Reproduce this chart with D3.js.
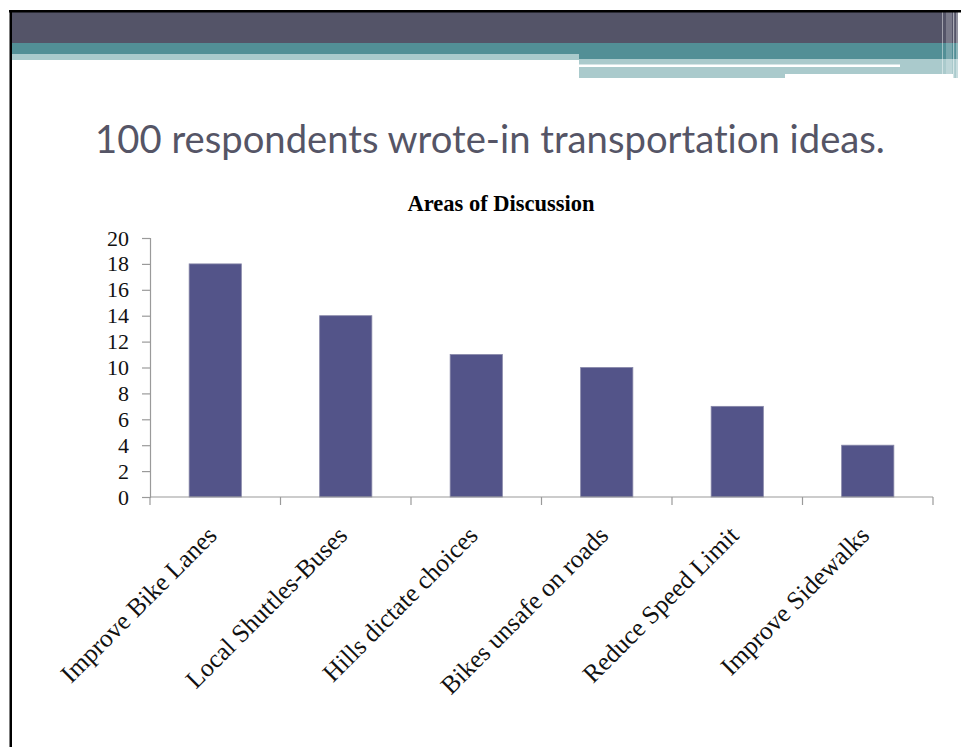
<!DOCTYPE html>
<html>
<head>
<meta charset="utf-8">
<script src="https://cdn.jsdelivr.net/npm/d3@7"></script>
<style>
  html, body { margin: 0; padding: 0; background: #fff; }
  svg { display: block; }
  text { font-variant-ligatures: none; font-feature-settings: "liga" 0, "clig" 0; }
</style>
</head>
<body>
<svg id="chart" width="961" height="747"></svg>
<script>
const categories = ["Improve Bike Lanes", "Local Shuttles-Buses", "Hills dictate choices", "Bikes unsafe on roads", "Reduce Speed Limit", "Improve Sidewalks"];
const values = [18, 14, 11, 10, 7, 4];
const yTicks = [0, 2, 4, 6, 8, 10, 12, 14, 16, 18, 20];
const slideTitle = "100 respondents wrote-in transportation ideas.";
const chartTitle = "Areas of Discussion";

const svg = d3.select("#chart");

// ---- slide decoration ----
const deco = svg.append("g");
deco.append("rect").attr("x", 12).attr("y", 12).attr("width", 946).attr("height", 31).attr("fill", "#545468");
deco.append("rect").attr("x", 12).attr("y", 43).attr("width", 946).attr("height", 16).attr("fill", "#528F96");
deco.append("rect").attr("x", 12).attr("y", 54).attr("width", 567).attr("height", 6).attr("fill", "#AACACC");
deco.append("rect").attr("x", 579).attr("y", 59).attr("width", 379).attr("height", 19).attr("fill", "#AACACC");
deco.append("rect").attr("x", 579).attr("y", 64.5).attr("width", 321).attr("height", 2.5).attr("fill", "#ffffff");
deco.append("rect").attr("x", 785).attr("y", 74).attr("width", 168).attr("height", 4).attr("fill", "#ffffff");
[[942, 1, 0.45], [946, 6, 0.22], [953, 1.2, 0.5], [956, 2, 0.35]].forEach(([x, w, o]) => {
  deco.append("rect").attr("x", x).attr("y", 12).attr("width", w).attr("height", 66).attr("fill", "#ffffff").attr("opacity", o);
});
deco.append("rect").attr("x", 9).attr("y", 10).attr("width", 952).attr("height", 2.5).attr("fill", "#000");
deco.append("rect").attr("x", 9.5).attr("y", 10).attr("width", 2.5).attr("height", 737).attr("fill", "#000");

// ---- slide title ----
const t = svg.append("text")
  .attr("x", 490).attr("y", 153)
  .attr("text-anchor", "middle")
  .attr("font-family", "Lato, 'DejaVu Sans', sans-serif")
  .attr("font-size", 34)
  .attr("fill", "#555566")
  .text(slideTitle);
const targetW = 790;
const w0 = t.node().getComputedTextLength();
t.attr("font-size", 34 * targetW / w0);

// ---- chart ----
const x0 = 150, x1 = 933, yTop = 238, yBot = 497;
const x = d3.scaleBand().domain(categories).range([x0, x1]).paddingInner(0.6).paddingOuter(0.3);
const xb = d3.scaleBand().domain(categories).range([x0, x1]).padding(0);
const y = d3.scaleLinear().domain([0, 20]).range([yBot, yTop]);

svg.append("text")
  .attr("x", 501).attr("y", 211)
  .attr("text-anchor", "middle")
  .attr("font-family", "'Liberation Serif', serif")
  .attr("font-weight", "bold")
  .attr("font-size", 22.5)
  .attr("fill", "#000")
  .text(chartTitle);

// bars
svg.append("g").selectAll("rect")
  .data(values)
  .join("rect")
  .attr("x", (d, i) => x(categories[i]))
  .attr("width", x.bandwidth())
  .attr("y", d => y(d))
  .attr("height", d => y(0) - y(d))
  .attr("fill", "#535489")
  .attr("stroke", "#8787a8")
  .attr("stroke-width", 0.8);

// y axis
const yAxis = svg.append("g")
  .attr("transform", `translate(${x0},0)`)
  .call(d3.axisLeft(y).tickValues(yTicks).tickSize(8).tickPadding(13).tickFormat(d3.format("d")));
yAxis.select(".domain").attr("stroke", "#9a9a9a").attr("stroke-width", 1.2);
yAxis.selectAll(".tick line").attr("stroke", "#9a9a9a").attr("stroke-width", 1.2);
yAxis.selectAll(".tick text")
  .attr("font-family", "'Liberation Serif', serif")
  .attr("font-size", 22)
  .attr("fill", "#111");

// x axis
const xAxis = svg.append("g");
xAxis.append("line")
  .attr("x1", x0).attr("x2", x1).attr("y1", yBot).attr("y2", yBot)
  .attr("stroke", "#9a9a9a").attr("stroke-width", 1.2);
const bounds = categories.map(c => xb(c)).concat([xb.range()[1]]);
xAxis.selectAll("line.tk").data(bounds).join("line")
  .attr("class", "tk")
  .attr("x1", d => d).attr("x2", d => d)
  .attr("y1", yBot).attr("y2", yBot + 8)
  .attr("stroke", "#9a9a9a").attr("stroke-width", 1.2);
xAxis.selectAll("text").data(categories).join("text")
  .attr("text-anchor", "end")
  .attr("transform", c => `translate(${xb(c) + xb.bandwidth() / 2 + 3},537) rotate(-45)`)
  .attr("font-family", "'Liberation Serif', serif")
  .attr("font-size", 25.5)
  .attr("fill", "#111")
  .text(c => c);
</script>
</body>
</html>
